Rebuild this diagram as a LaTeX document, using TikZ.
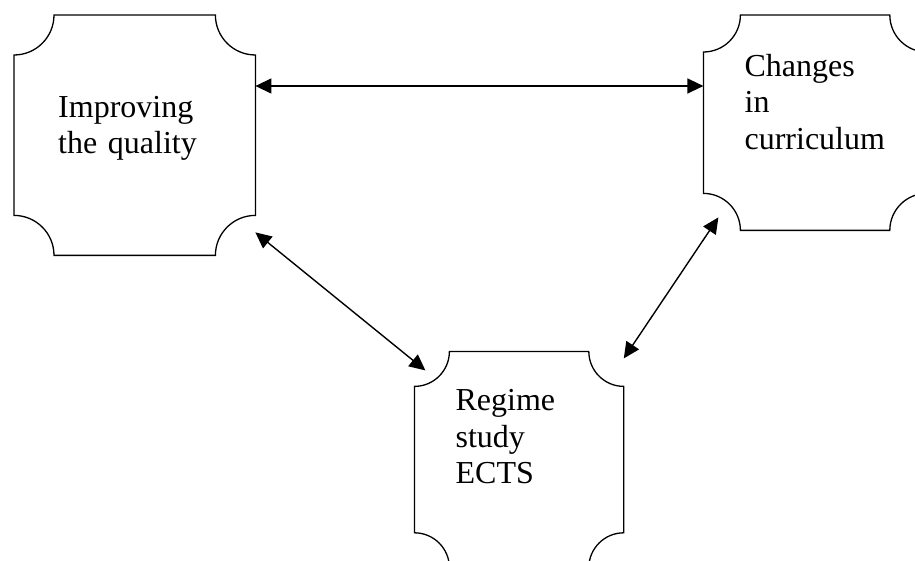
\documentclass[tikz,border=0pt]{standalone}
\usepackage{fontspec}
\setmainfont{Liberation Serif}
\usetikzlibrary{positioning,arrows.meta}
\hyphenpenalty=10000

% outline with concave quarter-circle corners around a node
\newcommand\plaque[2]{%
  \draw[line width=1.3pt] ([yshift=-#2]#1.north west) arc[start angle=-90,end angle=0,radius=#2]
    -- ([xshift=-#2]#1.north east) arc[start angle=180,end angle=270,radius=#2]
    -- ([yshift=#2]#1.south east) arc[start angle=90,end angle=180,radius=#2]
    -- ([xshift=#2]#1.south west) arc[start angle=0,end angle=90,radius=#2]
    -- cycle;}

\begin{document}
\begin{tikzpicture}[x=1pt,y=1pt,
    box/.style={anchor=north west, inner ysep=0pt, align=left,
      font=\fontsize{32}{36.5}\selectfont},
    link/.style={>={Triangle[length=16pt,width=15pt]}, <->, line width=1.4pt}]
    \useasboundingbox (0,0) rectangle (915,560);

    \node[box, inner xsep=44pt, text width=153pt, text height=102pt, text depth=138pt] (q) at (14,545) {Improving\\the quality};
    \node[box, right=448pt of q.north east, anchor=north west, inner xsep=41pt, text width=141pt, text height=61pt, text depth=154pt] (c) {Changes\\in\\curriculum};
    \node[box, below right=96pt and 159pt of q.south east, inner xsep=41pt, text width=127pt, text height=59pt, text depth=157pt] (r) {Regime\\study\\ECTS};

    \plaque{q}{40pt}
    \plaque{c}{37pt}
    \plaque{r}{35pt}

    \draw[link] ([yshift=-71pt]q.north east) -- ([yshift=-71pt]c.north west);
    \draw[link] ([yshift=23pt]q.south east) -- ([xshift=11pt,yshift=-19pt]r.north west);
    \draw[link] ([xshift=15pt,yshift=13pt]c.south west) -- ([yshift=-7pt]r.north east);
\end{tikzpicture}
\end{document}
